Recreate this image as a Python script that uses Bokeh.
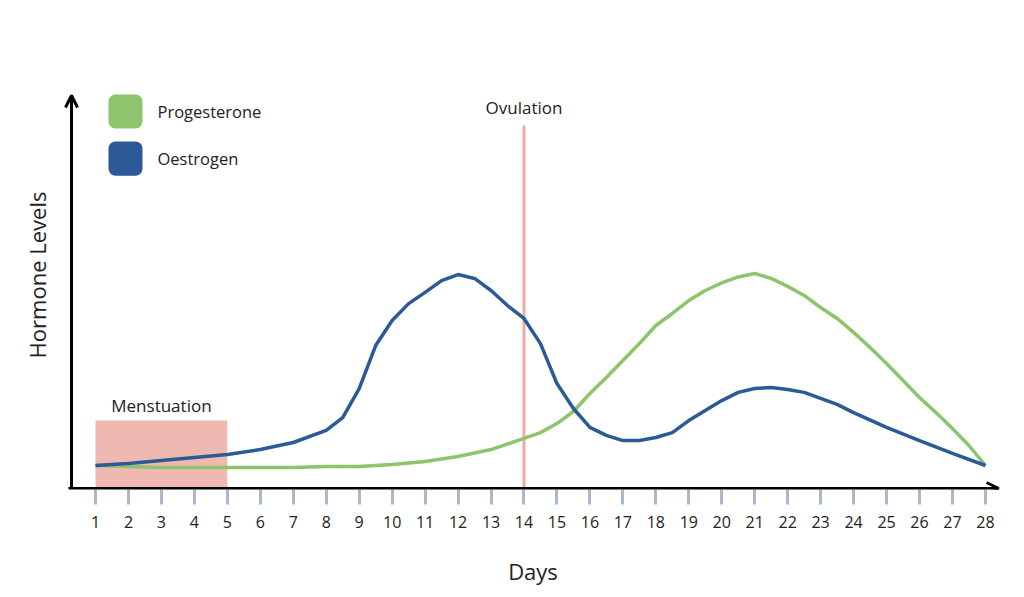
from bokeh.plotting import figure
from bokeh.models import Arrow, OpenHead, Label, BoxAnnotation, FixedTicker
from bokeh.embed import file_html
from bokeh.resources import INLINE

# days of the cycle
days = list(range(1, 29))

# oestrogen (relative level, peak = 100)
oestrogen_days = [1, 2, 3, 4, 5, 6, 7, 8, 8.5, 9, 9.5, 10, 10.5, 11, 11.5, 12, 12.5, 13,
                  13.5, 14, 14.5, 15, 15.5, 16, 16.5, 17, 17.5, 18, 18.5, 19, 19.5, 20,
                  20.5, 21, 21.5, 22, 22.5, 23, 23.5, 24, 25, 26, 27, 28]
oestrogen = [10.7, 11.6, 13.0, 14.4, 15.8, 18.1, 21.4, 27.0, 33.0, 46.5, 66.5, 78.1,
             86.0, 91.2, 96.7, 99.5, 97.7, 92.1, 85.1, 79.1, 67.4, 48.8, 37.2, 28.4,
             24.7, 22.3, 22.3, 23.7, 26.0, 31.6, 36.3, 40.9, 44.7, 46.5, 47.0, 46.0,
             44.7, 41.9, 39.1, 35.3, 28.4, 22.3, 16.3, 10.7]

# progesterone
progesterone_days = [1, 2, 3, 4, 5, 6, 7, 8, 9, 10, 11, 12, 13, 14, 14.5, 15, 15.5, 16,
                     16.5, 17, 17.5, 18, 18.5, 19, 19.5, 20, 20.5, 21, 21.5, 22, 22.5,
                     23, 23.5, 24, 24.5, 25, 25.5, 26, 26.5, 27, 27.5, 28]
progesterone = [10.7, 10.2, 9.8, 9.8, 9.8, 9.8, 9.8, 10.2, 10.2, 11.2, 12.6, 14.9,
                18.1, 23.3, 26.0, 30.2, 35.8, 44.2, 51.6, 59.5, 67.4, 75.8, 81.4, 87.4,
                92.1, 95.6, 98.4, 100.0, 97.7, 94.0, 89.8, 84.2, 79.1, 72.6, 65.6, 58.1,
                50.2, 42.3, 35.3, 27.9, 20.0, 10.7]

menses_start, menses_end, menses_top = 1, 5, 31.6
ovulation_day, ovulation_top = 14, 168.8

GREEN = "#8dc46c"
BLUE = "#2b5a96"
PINK = "#efb8b0"
FONT = "Open Sans"
TXT = "#222222"

p = figure(width=1008, height=588, x_range=(-0.062, 28.609), y_range=(-0.465, 199.07),
           output_backend="svg", toolbar_location=None,
           min_border_left=60, min_border_right=3, min_border_top=60, min_border_bottom=99)
p.outline_line_color = None
p.xgrid.visible = False
p.ygrid.visible = False
p.background_fill_color = "white"
p.border_fill_color = "white"

# x axis: ticks and labels from bokeh, arrow drawn separately
xa = p.xaxis[0]
xa.ticker = FixedTicker(ticks=days)
xa.axis_line_color = None
xa.major_tick_line_color = "#a5b8d4"
xa.major_tick_line_width = 3
xa.major_tick_out = 15
xa.major_tick_in = 0
xa.minor_tick_line_color = None
xa.major_label_standoff = 11
xa.major_label_text_font = FONT
xa.major_label_text_font_size = "16px"
xa.major_label_text_color = TXT
xa.axis_label = "Days"
xa.axis_label_text_font = FONT
xa.axis_label_text_font_size = "22px"
xa.axis_label_text_font_style = "normal"
xa.axis_label_text_color = TXT
xa.axis_label_standoff = 25

ya = p.yaxis[0]
ya.ticker = FixedTicker(ticks=[])
ya.axis_line_color = None
ya.major_tick_line_color = None
ya.minor_tick_line_color = None
ya.major_label_text_font_size = "0px"
ya.axis_label = "Hormone Levels"
ya.axis_label_text_font = FONT
ya.axis_label_text_font_size = "22px"
ya.axis_label_text_font_style = "normal"
ya.axis_label_text_color = TXT
ya.axis_label_standoff = 9

# menstruation block
p.quad(left=[menses_start], right=[menses_end], bottom=[0], top=[menses_top],
       fill_color=PINK, line_color=None)
p.add_layout(Label(x=(menses_start + menses_end) / 2, y=menses_top + 1.5, text="Menstuation",
                   text_align="center", text_baseline="bottom", text_font=FONT,
                   text_font_size="17px", text_color=TXT))

# ovulation marker
p.segment(x0=[ovulation_day], y0=[0], x1=[ovulation_day], y1=[ovulation_top],
          line_color="#f2aaa0", line_width=3)
p.add_layout(Label(x=ovulation_day, y=ovulation_top + 3, text="Ovulation",
                   text_align="center", text_baseline="bottom", text_font=FONT,
                   text_font_size="17px", text_color=TXT))

# hormone curves
p.line(progesterone_days, progesterone, line_color=GREEN, line_width=3.5, line_join="round")
p.line(oestrogen_days, oestrogen, line_color=BLUE, line_width=3.5, line_join="round")

# axis arrows
p.add_layout(Arrow(x_start=0.18, y_start=0, x_end=28.40, y_end=0, line_width=3,
                   line_color="black",
                   end=OpenHead(size=12, line_width=3, line_color="black")))
p.add_layout(Arrow(x_start=0.272, y_start=0, x_end=0.272, y_end=182.8, line_width=3,
                   line_color="black",
                   end=OpenHead(size=12, line_width=3, line_color="black")))

# legend
for name, col, top in [("Progesterone", GREEN, 183.3), ("Oestrogen", BLUE, 161.4)]:
    p.add_layout(BoxAnnotation(left=1.394, right=2.426, top=top, bottom=top - 15.9,
                               fill_color=col, fill_alpha=1, line_color=None,
                               border_radius=7, level="overlay"))
    p.add_layout(Label(x=2.881, y=top - 7.95, text=name, text_baseline="middle",
                       text_font=FONT, text_font_size="16.5px", text_color=TXT))

open("out.html", "w").write(file_html(p, INLINE))
